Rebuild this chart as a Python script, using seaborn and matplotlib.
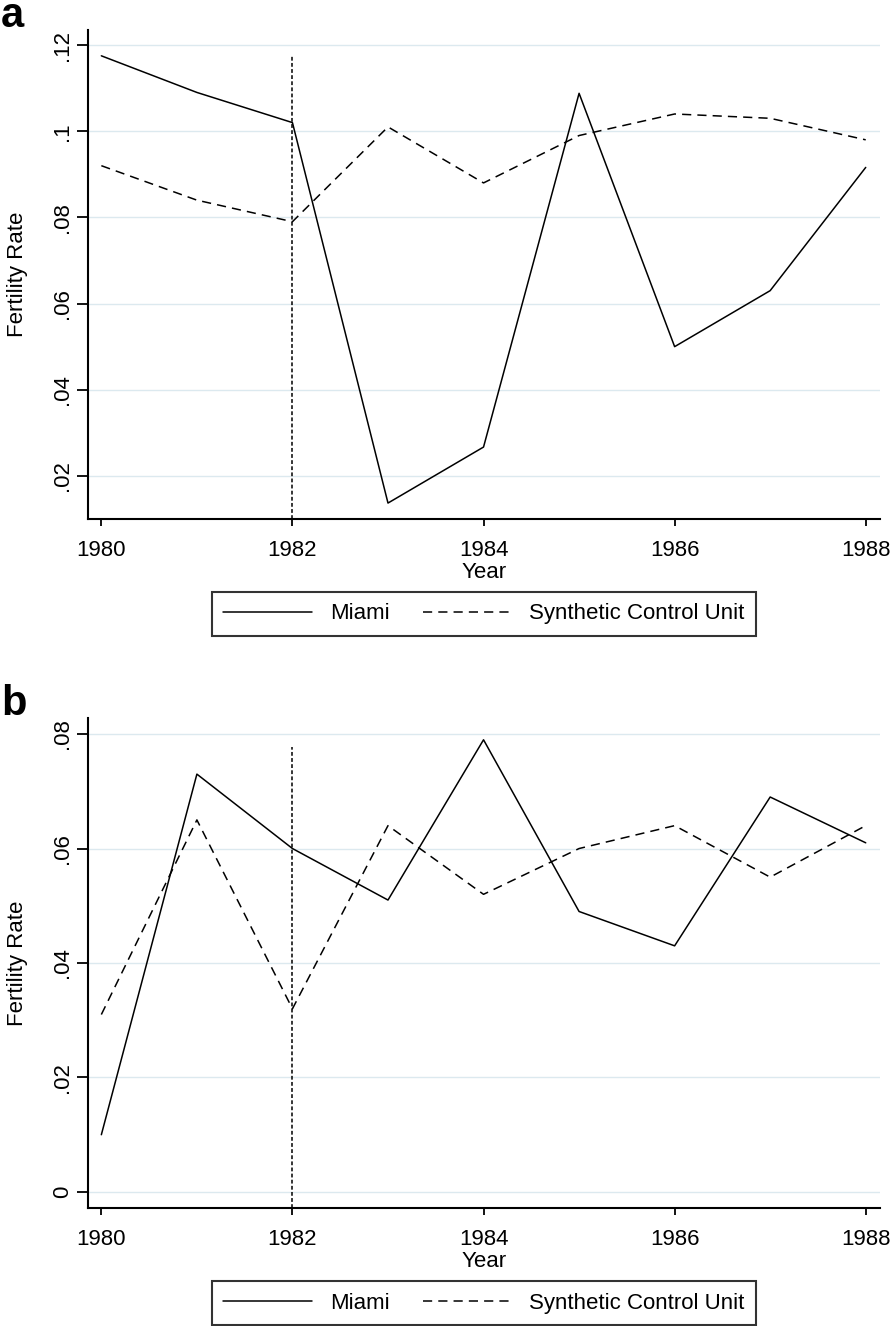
import numpy as np
import pandas as pd
import matplotlib
matplotlib.use("Agg")
import matplotlib.pyplot as plt
import seaborn as sns
from matplotlib.ticker import FuncFormatter

# data
years = [1980, 1981, 1982, 1983, 1984, 1985, 1986, 1987, 1988]

miami_a = [0.1175, 0.109, 0.102, 0.0137, 0.0267, 0.1088, 0.050, 0.063, 0.0916]
synth_a = [0.092, 0.084, 0.079, 0.101, 0.088, 0.099, 0.104, 0.103, 0.098]

miami_b = [0.010, 0.073, 0.060, 0.051, 0.079, 0.049, 0.043, 0.069, 0.061]
synth_b = [0.031, 0.065, 0.032, 0.064, 0.052, 0.060, 0.064, 0.055, 0.064]

yticks_a = [0.02, 0.04, 0.06, 0.08, 0.10, 0.12]
yticks_b = [0.0, 0.02, 0.04, 0.06, 0.08]
xticks = [1980, 1982, 1984, 1986, 1988]
treat_year = 1982
vline_top_a = 0.1175
vline_top_b = 0.0778

series_names = ["Miami", "Synthetic Control Unit"]

sns.set_theme(style="ticks")
plt.rcParams["font.family"] = ["Liberation Sans", "DejaVu Sans"]
plt.rcParams["text.color"] = "black"
plt.rcParams["axes.labelcolor"] = "black"
plt.rcParams["xtick.color"] = "black"
plt.rcParams["ytick.color"] = "black"


def stata_fmt(v, pos):
    if abs(v) < 1e-9:
        return "0"
    s = f"{v:.2f}".rstrip("0")
    return s.replace("0.", ".", 1)


def panel(ax, miami, synth, yticks, ylim, vtop, letter, letter_y):
    df = pd.DataFrame({
        "Year": years * 2,
        "rate": miami + synth,
        "series": [series_names[0]] * len(years) + [series_names[1]] * len(years),
    })
    ax.set_yticks(yticks)
    ax.yaxis.grid(True, color="#dce9ef", lw=1.0)
    ax.set_axisbelow(True)
    sns.lineplot(data=df, x="Year", y="rate", style="series",
                 dashes={series_names[0]: "", series_names[1]: (6, 4)},
                 color="black", lw=1.1, legend=False, ax=ax)
    ax.plot([treat_year, treat_year], [ylim[0], vtop], color="black",
            lw=1.1, dashes=(2.5, 1.5))
    ax.set_xlim(1979.86, 1988.15)
    ax.set_ylim(*ylim)
    ax.set_xticks(xticks)
    ax.yaxis.set_major_formatter(FuncFormatter(stata_fmt))
    sns.despine(ax=ax)
    for s in ["left", "bottom"]:
        ax.spines[s].set_linewidth(1.5)
        ax.spines[s].set_color("black")
    ax.tick_params(axis="y", length=8, width=1.3, labelsize=16, rotation=90, pad=3)
    ax.tick_params(axis="x", length=5, width=1.3, labelsize=16, pad=10)
    for lab in ax.get_yticklabels():
        lab.set_va("center")
    ax.set_xlabel("Year", fontsize=16, labelpad=1)
    ax.set_ylabel("Fertility Rate", fontsize=16, labelpad=17)
    lines = ax.get_lines()[:2]
    leg = ax.legend(lines, series_names, loc="upper center",
                    bbox_to_anchor=(0.5, -0.15), ncol=2, fontsize=16,
                    frameon=True, fancybox=False, edgecolor="black",
                    handlelength=4.0, columnspacing=1.5, borderaxespad=0,
                    borderpad=0.5)
    leg.get_frame().set_linewidth(1.5)
    ax.figure.text(0.001, letter_y, letter, fontsize=30,
                   fontweight="bold", ha="left", va="baseline")


fig = plt.figure(figsize=(8.94, 13.26), dpi=100)
ax_a = fig.add_axes([0.0984, 0.6086, 0.886, 0.3688])
ax_b = fig.add_axes([0.0984, 0.0890, 0.886, 0.3695])

panel(ax_a, miami_a, synth_a, yticks_a, (0.0100, 0.1235), vline_top_a, "a",
      1 - 27 / 1326)
panel(ax_b, miami_b, synth_b, yticks_b, (-0.0028, 0.0828), vline_top_b, "b",
      1 - 715 / 1326)

fig.savefig("out.png", dpi=100)
